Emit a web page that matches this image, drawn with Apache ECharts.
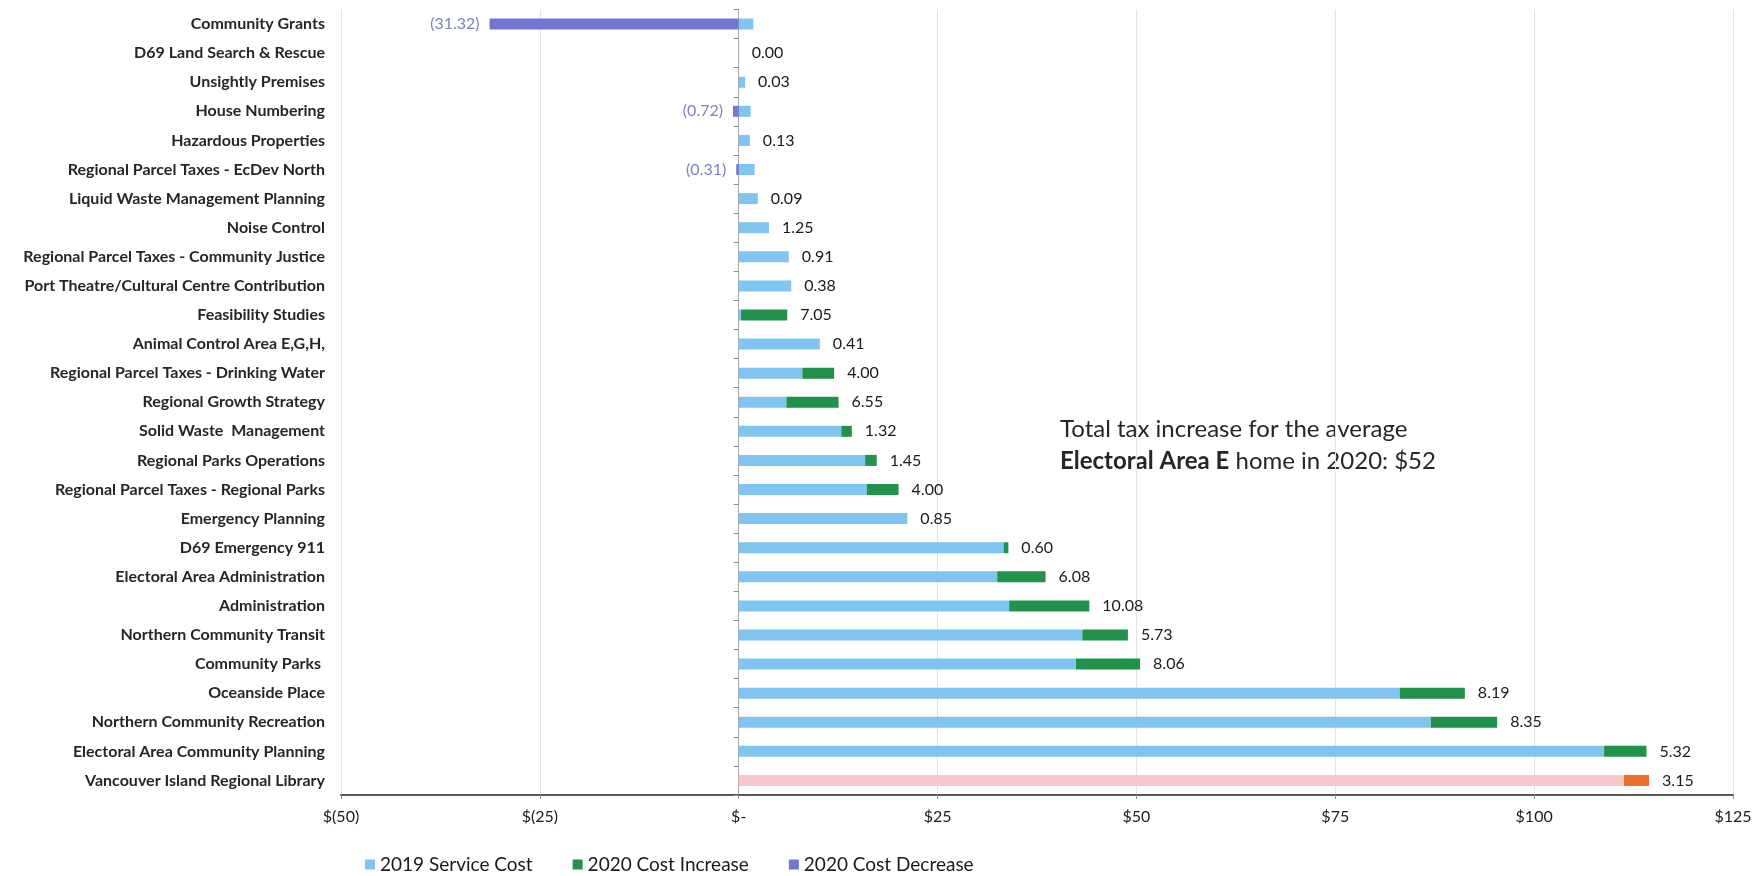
<!DOCTYPE html>
<html>
<head>
<meta charset="utf-8">
<script src="https://cdn.jsdelivr.net/npm/echarts@6/dist/echarts.min.js"></script>
<style>
html,body{margin:0;padding:0;background:#fff;}
#chart{width:1763px;height:876px;}
</style>
</head>
<body>
<div id="chart"></div>
<script>
const categories = [
  'Community Grants',
  'D69 Land Search & Rescue',
  'Unsightly Premises',
  'House Numbering',
  'Hazardous Properties',
  'Regional Parcel Taxes - EcDev North',
  'Liquid Waste Management Planning',
  'Noise Control',
  'Regional Parcel Taxes - Community Justice',
  'Port Theatre/Cultural Centre Contribution',
  'Feasibility Studies',
  'Animal Control Area E,G,H,',
  'Regional Parcel Taxes - Drinking Water',
  'Regional Growth Strategy',
  'Solid Waste  Management',
  'Regional Parks Operations',
  'Regional Parcel Taxes - Regional Parks',
  'Emergency Planning',
  'D69 Emergency 911',
  'Electoral Area Administration',
  'Administration',
  'Northern Community Transit',
  'Community Parks ',
  'Oceanside Place',
  'Northern Community Recreation',
  'Electoral Area Community Planning',
  'Vancouver Island Regional Library'
];
// 2019 service cost (bar length)
const cost2019 = [1.85, 0, 0.8, 1.5, 1.4, 2.0, 2.4, 3.8, 6.3, 6.6, 0.3, 10.2, 8.0, 6.0, 12.9, 15.9, 16.1, 21.2, 33.3, 32.5, 34.0, 43.2, 42.4, 83.1, 87.0, 108.8, 111.3];
// 2020 cost increase segment (green)
const increase2020 = [0, 0, 0, 0, 0, 0, 0, 0, 0, 0, 5.8, 0, 4.00, 6.55, 1.32, 1.45, 4.00, 0, 0.60, 6.08, 10.08, 5.73, 8.06, 8.19, 8.35, 5.32, 3.15];
// 2020 cost decrease segment (purple)
const decrease2020 = [-31.32, 0, 0, -0.72, 0, -0.31, 0, 0, 0, 0, 0, 0, 0, 0, 0, 0, 0, 0, 0, 0, 0, 0, 0, 0, 0, 0, 0];
// printed change labels
const change2020 = [-31.32, 0.00, 0.03, -0.72, 0.13, -0.31, 0.09, 1.25, 0.91, 0.38, 7.05, 0.41, 4.00, 6.55, 1.32, 1.45, 4.00, 0.85, 0.60, 6.08, 10.08, 5.73, 8.06, 8.19, 8.35, 5.32, 3.15];
const xTickLabels = ['$(50)', '$(25)', '$-', '$25', '$50', '$75', '$100', '$125'];
const seriesNames = ['2019 Service Cost', '2020 Cost Increase', '2020 Cost Decrease'];
const highlightCategory = 'Vancouver Island Regional Library';

const FONT = 'Lato, "Open Sans", "Liberation Sans", sans-serif';
const C_BLUE = '#80c4f1', C_GREEN = '#21924a', C_PURPLE = '#7277d0';
const C_PINK = '#f7c6c9', C_ORANGE = '#ee6f2d';

const chart = echarts.init(document.getElementById('chart'), null, {renderer: 'canvas'});
const option = {
  animation: false,
  backgroundColor: '#ffffff',
  textStyle: {fontFamily: FONT},
  grid: {left: 341, right: 30, top: 9.5, bottom: 81, containLabel: false},
  legend: {
    data: seriesNames,
    left: 360, top: 850,
    icon: 'rect', itemWidth: 10, itemHeight: 10, itemGap: 40,
    textStyle: {fontFamily: FONT, fontSize: 19, color: '#1a1a1a'}
  },
  xAxis: {
    type: 'value', min: -50, max: 125, interval: 25,
    axisLine: {show: true, onZero: false, lineStyle: {color: '#595959', width: 2}},
    axisTick: {show: true, length: 4, lineStyle: {color: '#8c8c8c'}},
    splitLine: {show: true, lineStyle: {color: '#e4e4e4', width: 1}},
    axisLabel: {
      margin: 14, fontSize: 16, color: '#1a1a1a', fontFamily: FONT,
      formatter: v => xTickLabels[Math.round((v + 50) / 25)]
    }
  },
  yAxis: [{
    type: 'category', data: categories, inverse: true, position: 'left',
    axisLine: {show: false, onZero: false},
    axisTick: {show: false},
    axisLabel: {margin: 16, fontSize: 16, fontWeight: 'bold', color: '#262626', fontFamily: FONT}
  }, {
    type: 'category', data: categories, inverse: true, position: 'left',
    axisLine: {show: true, onZero: true, lineStyle: {color: '#a8a8a8', width: 1}},
    axisTick: {show: true, length: 5, lineStyle: {color: '#8c8c8c'}},
    axisLabel: {show: false},
    splitLine: {show: false}
  }],
  series: [{
    name: seriesNames[0], type: 'bar', stack: 'a', yAxisIndex: 0, barWidth: 11,
    data: cost2019,
    itemStyle: {color: p => p.name === highlightCategory ? C_PINK : C_BLUE},
    color: C_BLUE
  }, {
    name: seriesNames[1], type: 'bar', stack: 'a', yAxisIndex: 0, barWidth: 11,
    data: increase2020,
    itemStyle: {color: p => p.name === highlightCategory ? C_ORANGE : C_GREEN},
    color: C_GREEN,
    label: {
      show: true, position: 'right', distance: 13,
      fontFamily: FONT, fontSize: 16, color: '#1a1a1a',
      formatter: p => change2020[p.dataIndex] >= 0 ? change2020[p.dataIndex].toFixed(2) : ''
    }
  }, {
    name: seriesNames[2], type: 'bar', stack: 'a', yAxisIndex: 0, barWidth: 11,
    data: decrease2020,
    itemStyle: {color: C_PURPLE},
    color: C_PURPLE,
    label: {
      show: true, position: 'left', distance: 10,
      fontFamily: FONT, fontSize: 16, color: '#7d82c4',
      formatter: p => change2020[p.dataIndex] < 0 ? '(' + Math.abs(change2020[p.dataIndex]).toFixed(2) + ')' : ''
    }
  }],
  graphic: [{
    type: 'text', left: 1060, top: 417,
    style: {
      text: 'Total tax increase for the average',
      font: '24px ' + FONT, fill: '#262626'
    }
  }, {
    type: 'text', left: 1060, top: 449,
    style: {
      text: '{b|Electoral Area E} home in 2020: $52',
      font: '24px ' + FONT, fill: '#262626',
      rich: {b: {fontWeight: 'bold', fontSize: 24, fontFamily: FONT, fill: '#262626'}}
    }
  }]
};
chart.setOption(option);
</script>
</body>
</html>
